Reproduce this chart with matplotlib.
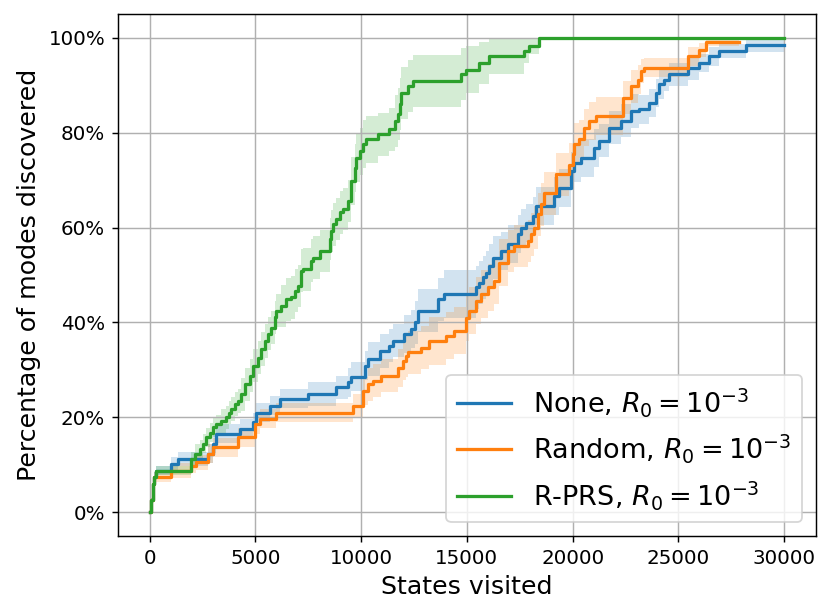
import matplotlib
matplotlib.use("Agg")
import matplotlib.pyplot as plt
import matplotlib.ticker as ticker
import numpy as np

# states visited at which each mean curve steps up, mean % of modes found, and band half-width
green_x = [0, 80, 160, 190, 317, 1971, 2160, 2363, 2524, 2680, 2836, 2996, 3152, 3389, 3625,
           3734, 3861, 4017, 4178, 4334, 4490, 4726, 4887, 5123, 5279, 5435, 5596, 5752, 5908, 5988,
           6224, 6460, 6697, 6853, 7013, 7169, 7250, 7642, 7722, 8034, 8507, 8587, 8667, 8823, 8979,
           9140, 9376, 9532, 9688, 9769, 9925, 10085, 10241, 10794, 11342, 11579, 11739, 11815, 11895, 12212,
           12448, 14731, 14967, 15596, 16068, 17723, 17959, 18431, 30000]
green_y = [0, 2.5, 6.0, 7.4, 8.8, 11.2, 12.3, 13.3, 14.4, 15.8, 16.8, 17.9, 18.6, 19.3, 20.0,
           21.0, 21.8, 22.8, 23.5, 24.9, 27.0, 28.8, 30.9, 32.6, 34.4, 36.1, 37.6, 38.9, 41.1, 42.5,
           43.5, 44.9, 45.3, 46.7, 47.7, 50.9, 51.2, 53.0, 53.7, 55.1, 57.6, 59.3, 60.7, 61.8, 63.2,
           63.9, 65.6, 69.8, 72.6, 74.7, 76.1, 77.6, 78.6, 79.7, 80.7, 82.5, 83.9, 86.0, 88.4, 89.8,
           90.9, 92.3, 93.3, 94.7, 96.1, 97.2, 98.2, 100, 100]
green_sd = [0, 0.5, 1, 1, 1, 1.5, 2, 2, 2, 2, 2, 2, 2, 2.5, 2.5,
            2.5, 2.5, 2.5, 2.5, 3.5, 3.5, 3.5, 3.5, 3.5, 3.5, 3.5, 3.5, 3.5, 3.5, 3.5,
            4.5, 4.5, 4.5, 4.5, 4.5, 4.5, 4.5, 4.5, 4.5, 4.5, 4.5, 4.5, 4.5, 4.5, 4.5,
            4.5, 4.5, 5, 5, 5, 5, 5, 5, 4.5, 4.5, 5.5, 5.5, 5.5, 5.5, 5.5,
            5.5, 5.5, 5, 4.5, 3.8, 2.5, 1.5, 0, 0]

blue_x = [0, 80, 160, 190, 317, 1026, 1342, 2760, 2996, 3152, 4253, 4887, 5043, 5671, 6144,
          7486, 8823, 9376, 9532, 10161, 10322, 10870, 11342, 11503, 12051, 12368, 12524, 12685, 13630, 13942,
          15440, 15596, 15757, 15913, 16068, 16229, 16622, 16938, 17411, 17566, 17803, 18120, 18275, 19140, 19377,
          19930, 20086, 20403, 21031, 21267, 21740, 22293, 22765, 23157, 23630, 23947, 24103, 24339, 24575, 25445,
          25993, 26466, 26938, 28200, 30000]
blue_y = [0, 2.5, 6.0, 7.4, 8.8, 10.2, 11.2, 12.3, 14.4, 16.5, 17.6, 19.0, 21.0, 22.5, 23.9,
          24.9, 26.3, 27.4, 28.6, 30.9, 32.3, 34.0, 35.1, 36.2, 37.6, 38.6, 40.0, 42.5, 44.9, 46.0,
          47.4, 48.4, 49.5, 50.5, 52.0, 53.7, 55.1, 56.5, 58.6, 60.0, 61.0, 62.5, 64.6, 66.7, 68.4,
          71.9, 73.7, 74.7, 76.8, 78.3, 81.1, 82.5, 84.6, 84.9, 86.3, 88.4, 90.2, 91.2, 92.3, 93.7,
          94.7, 96.1, 97.2, 98.6, 98.6]
blue_sd = [0, 0.5, 1, 1, 1, 1.5, 1.5, 2, 2, 2, 2, 2, 2, 2, 2,
           2.5, 2.5, 3, 3, 3, 3.5, 3.5, 3.5, 3.5, 4, 4, 4.5, 4.5, 4.5, 5,
           4.5, 4.5, 4.5, 4.5, 4.5, 4.5, 4, 4, 4, 4, 4, 4, 4, 4, 4,
           4, 4, 4, 4, 3.5, 3.5, 3.5, 3.5, 3, 3, 3, 3, 2.5, 2.5, 2.5,
           2, 2, 1.5, 1.5, 1.5]

orange_x = [0, 80, 160, 190, 1026, 1971, 2206, 2760, 2996, 4178, 4962, 5199, 5988, 9612, 10085,
            10322, 10558, 10950, 11739, 11976, 12132, 12212, 12840, 13233, 14022, 14414, 14967, 15123, 15440, 15676,
            15993, 16305, 16541, 16938, 17250, 17883, 18039, 18195, 18356, 18512, 18668, 19221, 19849, 20010, 20086,
            20322, 20558, 20794, 21111, 22373, 22765, 23082, 23238, 23394, 25445, 25955, 26310, 27880]
orange_y = [0, 2.5, 6.0, 7.4, 8.8, 9.8, 10.5, 12.3, 13.7, 15.8, 18.6, 19.7, 21.0, 22.5, 25.6,
            27.0, 27.7, 28.8, 30.5, 31.9, 33.0, 33.7, 34.7, 36.1, 37.2, 38.3, 41.0, 42.5, 44.6, 46.0,
            47.4, 48.8, 52.6, 55.1, 56.1, 57.2, 58.6, 60.0, 62.8, 64.9, 67.2, 71.2, 73.3, 75.5, 77.6,
            78.6, 81.1, 82.5, 83.5, 87.4, 89.8, 91.2, 93.0, 93.7, 96.1, 97.4, 99.2, 99.2]
orange_sd = [0, 0.5, 1, 1, 1.5, 1.5, 1.5, 2, 2, 2, 2, 2, 2, 2.5, 3,
             3.5, 3.5, 3.5, 4, 4, 4.5, 4.5, 4.5, 5, 5, 5, 5, 5, 5, 5,
             5, 5, 5, 4.5, 4.5, 4.5, 4.5, 4.5, 4.5, 4.5, 4.5, 4.5, 4.5, 4.5, 4.5,
             4, 4, 4, 4, 3.5, 3.5, 3, 2.5, 2, 2, 1.5, 1, 1]

series = [
    ("None, $R_0=10^{-3}$", blue_x, blue_y, blue_sd, "C0"),
    ("Random, $R_0=10^{-3}$", orange_x, orange_y, orange_sd, "C1"),
    ("R-PRS, $R_0=10^{-3}$", green_x, green_y, green_sd, "C2"),
]

fig, ax = plt.subplots(figsize=(830 / 130, 615 / 130), dpi=130)
fig.subplots_adjust(left=0.142, right=0.983, bottom=0.1285, top=0.977)

for label, xs, ys, sd, col in series:
    ys = np.array(ys)
    sd = np.array(sd)
    lo = np.clip(ys - sd, 0, 100)
    hi = np.clip(ys + sd, 0, 100)
    ax.fill_between(xs, lo, hi, step="post", color=col, alpha=0.2, linewidth=0)
    ax.step(xs, ys, where="post", color=col, linewidth=1.8, label=label)

ax.yaxis.set_major_formatter(ticker.PercentFormatter(xmax=100, decimals=0))
ax.tick_params(labelsize=11)
ax.grid(True)
ax.set_xlabel("States visited", fontsize=14)
ax.set_ylabel("Percentage of modes discovered", fontsize=14)
ax.legend(loc="lower right", fontsize=15)

fig.savefig("out.png", dpi=130)
